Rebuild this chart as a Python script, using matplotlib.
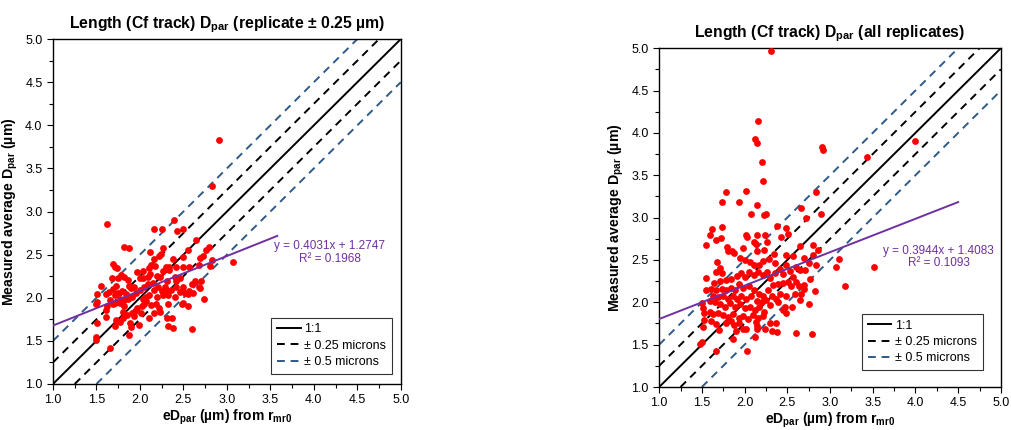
import numpy as np
import matplotlib.pyplot as plt
from matplotlib.ticker import MultipleLocator

plt.rcParams["font.family"] = ["Liberation Sans", "DejaVu Sans"]
plt.rcParams["mathtext.fontset"] = "custom"
plt.rcParams["mathtext.rm"] = "Liberation Sans:bold"
plt.rcParams["mathtext.default"] = "rm"

# left panel: replicate +/- 0.25 um (eDpar, measured Dpar)
left_x = [2.91, 2.83, 1.62, 2.16, 2.25, 2.39, 2.50, 2.43, 1.82, 1.88, 2.12, 2.26, 2.55, 2.65,
          2.80, 2.76, 3.07, 2.83, 2.73, 2.69, 2.68, 2.81, 2.56, 2.49, 2.50, 2.38, 2.30, 2.33,
          2.22, 2.24, 2.16, 2.17, 2.20, 2.11, 2.03, 2.04, 1.97, 1.69, 1.71, 1.74, 1.68, 1.75,
          1.78, 1.82, 1.86, 1.87, 1.72, 1.55, 1.51, 1.61, 1.65, 1.69, 1.71, 1.75, 1.79, 1.84,
          1.90, 1.93, 2.05, 2.09, 2.15, 2.16, 2.21, 2.25, 2.29, 2.30, 2.31, 2.32, 2.26, 2.23,
          2.34, 2.40, 2.42, 2.46, 2.49, 2.48, 2.46, 2.52, 2.55, 2.56, 2.60, 2.61, 2.68, 2.70,
          2.69, 2.74, 2.55, 2.48, 2.49, 2.40, 2.32, 2.31, 2.32, 2.37, 2.38, 2.60, 2.23, 2.22,
          2.16, 2.11, 2.19, 2.13, 2.07, 2.05, 2.07, 2.03, 2.02, 2.01, 1.99, 1.97, 1.94, 1.93,
          1.91, 1.89, 1.88, 1.90, 1.85, 1.80, 1.80, 1.77, 1.72, 1.71, 1.71, 1.77, 1.82, 1.86,
          1.82, 1.66, 1.69, 1.62, 1.61, 1.61, 1.51, 1.49, 1.51, 1.49, 1.49, 1.66, 2.00, 2.09,
          2.12, 2.27, 2.13, 2.42, 1.96, 2.00, 1.91, 1.77, 2.20, 2.11, 2.63, 2.42, 2.36]
left_y = [3.83, 3.30, 2.86, 2.80, 2.80, 2.90, 2.80, 2.77, 2.59, 2.58, 2.53, 2.58, 2.55, 2.67,
          2.59, 2.55, 2.42, 2.44, 2.48, 2.46, 2.38, 2.37, 2.36, 2.36, 2.47, 2.45, 2.36, 2.36,
          2.48, 2.51, 2.45, 2.37, 2.25, 2.34, 2.31, 2.23, 2.30, 2.39, 2.36, 2.34, 2.23, 2.23,
          2.26, 2.24, 2.21, 2.14, 2.14, 2.14, 2.04, 2.04, 2.07, 2.10, 2.03, 2.05, 2.08, 2.04,
          2.11, 2.12, 2.13, 2.16, 2.17, 2.09, 2.13, 2.08, 2.13, 2.09, 2.19, 2.03, 2.03, 2.24,
          2.32, 2.24, 2.19, 2.23, 2.13, 2.08, 2.07, 2.06, 2.04, 2.08, 2.16, 2.06, 2.12, 2.19,
          2.11, 1.98, 1.90, 1.93, 1.94, 2.01, 1.93, 1.76, 1.67, 1.76, 1.65, 1.64, 1.83, 1.88,
          1.82, 1.76, 1.93, 1.92, 1.96, 1.93, 2.01, 1.99, 1.90, 1.82, 1.69, 1.88, 1.85, 1.79,
          1.82, 1.71, 1.57, 1.66, 1.80, 1.83, 1.76, 1.72, 1.74, 1.67, 1.94, 1.94, 1.97, 1.99,
          1.90, 1.97, 1.93, 1.90, 1.86, 1.78, 1.95, 1.93, 1.71, 1.54, 1.51, 1.42, 2.23, 2.24,
          2.28, 2.31, 2.38, 2.36, 2.05, 2.09, 2.01, 1.99, 2.01, 2.03, 2.20, 2.13, 2.09]

# right panel: all replicates
right_x = [2.31, 2.16, 2.12, 2.14, 2.20, 2.21, 2.91, 2.92, 4.00, 3.43, 1.78, 2.02, 1.74, 1.94,
           2.14, 2.83, 2.66, 2.90, 2.23, 2.25, 2.07, 2.72, 1.62, 1.74, 1.59, 1.72, 1.66, 1.55,
           2.02, 2.03, 2.15, 2.24, 2.38, 2.49, 2.51, 2.43, 2.26, 2.11, 2.13, 2.65, 2.80, 1.79,
           1.80, 1.85, 1.98, 1.88, 2.23, 2.14, 2.34, 2.48, 2.57, 2.86, 2.80, 3.10, 3.07, 3.52,
           3.18, 2.83, 2.82, 2.75, 2.70, 2.71, 2.65, 2.60, 2.57, 2.53, 2.49, 2.45, 2.41, 2.36,
           2.28, 2.22, 2.17, 2.11, 2.06, 2.01, 1.95, 1.68, 1.71, 1.67, 1.74, 1.55, 1.64, 1.71,
           1.78, 1.84, 1.91, 1.96, 2.00, 2.05, 2.11, 2.16, 2.21, 2.26, 2.30, 2.36, 2.33, 2.39,
           2.45, 2.51, 2.60, 2.64, 2.70, 2.77, 2.54, 2.59, 2.66, 2.69, 2.65, 2.75, 2.48, 2.41,
           2.37, 2.32, 2.27, 2.22, 2.17, 2.11, 2.05, 1.98, 1.94, 1.89, 1.84, 1.78, 1.73, 1.67,
           1.61, 1.55, 1.63, 1.69, 1.75, 1.81, 1.86, 1.91, 1.96, 2.02, 2.08, 2.14, 2.20, 2.25,
           2.30, 2.39, 2.47, 2.49, 2.45, 2.55, 1.59, 1.65, 1.71, 1.77, 1.83, 1.89, 1.95, 2.00,
           2.06, 2.12, 2.17, 2.23, 1.50, 1.51, 1.52, 1.59, 1.63, 1.69, 1.75, 1.81, 1.87, 1.93,
           1.98, 2.04, 2.10, 2.16, 2.21, 1.52, 1.61, 1.67, 1.78, 1.84, 1.88, 1.94, 2.13, 2.15,
           2.30, 2.37, 1.90, 1.98, 2.02, 2.14, 2.24, 2.32, 2.38, 1.70, 1.51, 2.60, 2.79, 1.87,
           2.12, 1.50, 1.48, 1.66, 2.03]
right_y = [4.97, 4.14, 3.93, 3.88, 3.66, 3.43, 3.83, 3.80, 3.90, 3.72, 3.30, 3.31, 3.18, 3.18,
           3.15, 3.30, 3.11, 3.04, 3.03, 3.04, 3.04, 2.99, 2.86, 2.89, 2.80, 2.76, 2.73, 2.68,
           2.80, 2.77, 2.80, 2.80, 2.90, 2.88, 2.81, 2.77, 2.71, 2.71, 2.69, 2.66, 2.68, 2.65,
           2.60, 2.61, 2.64, 2.58, 2.62, 2.61, 2.57, 2.56, 2.55, 2.62, 2.56, 2.51, 2.42, 2.42,
           2.19, 2.44, 2.13, 2.46, 2.52, 2.38, 2.38, 2.42, 2.30, 2.37, 2.44, 2.33, 2.39, 2.46,
           2.51, 2.49, 2.44, 2.44, 2.48, 2.50, 2.52, 2.47, 2.40, 2.36, 2.35, 2.29, 2.23, 2.25,
           2.26, 2.28, 2.31, 2.35, 2.30, 2.36, 2.32, 2.36, 2.32, 2.36, 2.29, 2.34, 2.20, 2.22,
           2.23, 2.24, 2.24, 2.19, 2.20, 2.28, 2.19, 2.10, 2.10, 2.16, 2.03, 1.98, 2.08, 2.10,
           2.04, 2.08, 2.14, 2.07, 2.10, 2.14, 2.19, 2.17, 2.22, 2.14, 2.17, 2.14, 2.16, 2.14,
           2.16, 2.14, 2.08, 2.06, 2.07, 2.04, 2.07, 2.04, 2.07, 2.04, 2.07, 2.02, 2.00, 2.03,
           1.97, 2.00, 1.95, 1.87, 1.91, 1.95, 2.02, 2.00, 1.98, 1.95, 1.99, 1.95, 1.98, 1.93,
           1.95, 1.91, 1.94, 1.89, 1.99, 1.93, 1.87, 1.89, 1.86, 1.87, 1.85, 1.83, 1.86, 1.81,
           1.84, 1.80, 1.85, 1.81, 1.84, 1.79, 1.78, 1.74, 1.76, 1.78, 1.73, 1.76, 1.77, 1.72,
           1.76, 1.76, 1.66, 1.69, 1.68, 1.69, 1.68, 1.66, 1.65, 1.67, 1.71, 1.64, 1.63, 1.57,
           1.59, 1.53, 1.51, 1.42, 1.42]

# trendlines (slope, intercept, R2, x end) as printed on the chart
left_fit = (0.4031, 1.2747, 0.1968, 3.58)
right_fit = (0.3944, 1.4083, 0.1093, 4.5)

titles = [r"Length (Cf track) D$_{\mathrm{par}}$ (replicate ± 0.25 µm)",
          r"Length (Cf track) D$_{\mathrm{par}}$ (all replicates)"]

RED = "#FF0000"
PURPLE = "#7030A0"
BLUE = "#2E5A88"

fig = plt.figure(figsize=(10.11, 4.30), dpi=100)
ax1 = fig.add_axes([0.0524, 0.107, 0.344, 0.802])
ax2 = fig.add_axes([0.652, 0.100, 0.338, 0.788])

panels = [
    (ax1, left_x, left_y, left_fit, titles[0], (0.975, 0.03), (4.18, 2.52)),
    (ax2, right_x, right_y, right_fit, titles[1], (0.947, 0.05), (4.27, 2.535)),
]

for ax, xs, ys, fit, title, leg_anchor, txt_pos in panels:
    ax.scatter(xs, ys, s=24, color=RED, zorder=3, linewidths=0)
    ax.plot([1, 5], [1, 5], color="black", lw=1.4, label="1:1")
    ax.plot([1, 4.75], [1.25, 5], color="black", lw=1.4, dashes=(4, 3), label="± 0.25 microns")
    ax.plot([1.25, 5], [1, 4.75], color="black", lw=1.4, dashes=(4, 3))
    ax.plot([1, 4.5], [1.5, 5], color=BLUE, lw=1.4, dashes=(4, 3), label="± 0.5 microns")
    ax.plot([1.5, 5], [1, 4.5], color=BLUE, lw=1.4, dashes=(4, 3))
    slope, icpt, r2, xend = fit
    fx = np.array([1.0, xend])
    ax.plot(fx, slope * fx + icpt, color=PURPLE, lw=1.4, zorder=4)
    ax.text(txt_pos[0], txt_pos[1], f"y = {slope:.4f}x + {icpt:.4f}\nR² = {r2:.4f}",
            color=PURPLE, fontsize=8.5, ha="center", va="center", linespacing=1.1)

    ax.set_xlim(1, 5)
    ax.set_ylim(1, 5)
    ax.xaxis.set_major_locator(MultipleLocator(0.5))
    ax.yaxis.set_major_locator(MultipleLocator(0.5))
    ax.xaxis.set_minor_locator(MultipleLocator(0.25))
    ax.yaxis.set_minor_locator(MultipleLocator(0.25))
    ax.xaxis.set_major_formatter(lambda v, p: f"{v:.1f}")
    ax.yaxis.set_major_formatter(lambda v, p: f"{v:.1f}")
    ax.tick_params(which="both", direction="out", labelsize=9, width=0.8)
    ax.tick_params(which="major", length=4)
    ax.tick_params(which="minor", length=3)
    for sp in ax.spines.values():
        sp.set_linewidth(1.0)

    ax.set_title(title, fontsize=11.3, fontweight="bold", pad=8)
    ax.set_xlabel(r"eD$_{\mathrm{par}}$ (µm) from r$_{\mathrm{mr0}}$", fontsize=10,
                  fontweight="bold", labelpad=1)
    ax.set_ylabel(r"Measured average D$_{\mathrm{par}}$ (µm)", fontsize=10.2, fontweight="bold")

    leg = ax.legend(loc="lower right", bbox_to_anchor=leg_anchor, fontsize=9,
                    frameon=True, fancybox=False, edgecolor="black", handlelength=1.9,
                    handletextpad=0.3, borderaxespad=0, labelspacing=0.35, borderpad=0.45)
    leg.get_frame().set_linewidth(0.8)

fig.savefig("out.png", dpi=100)
